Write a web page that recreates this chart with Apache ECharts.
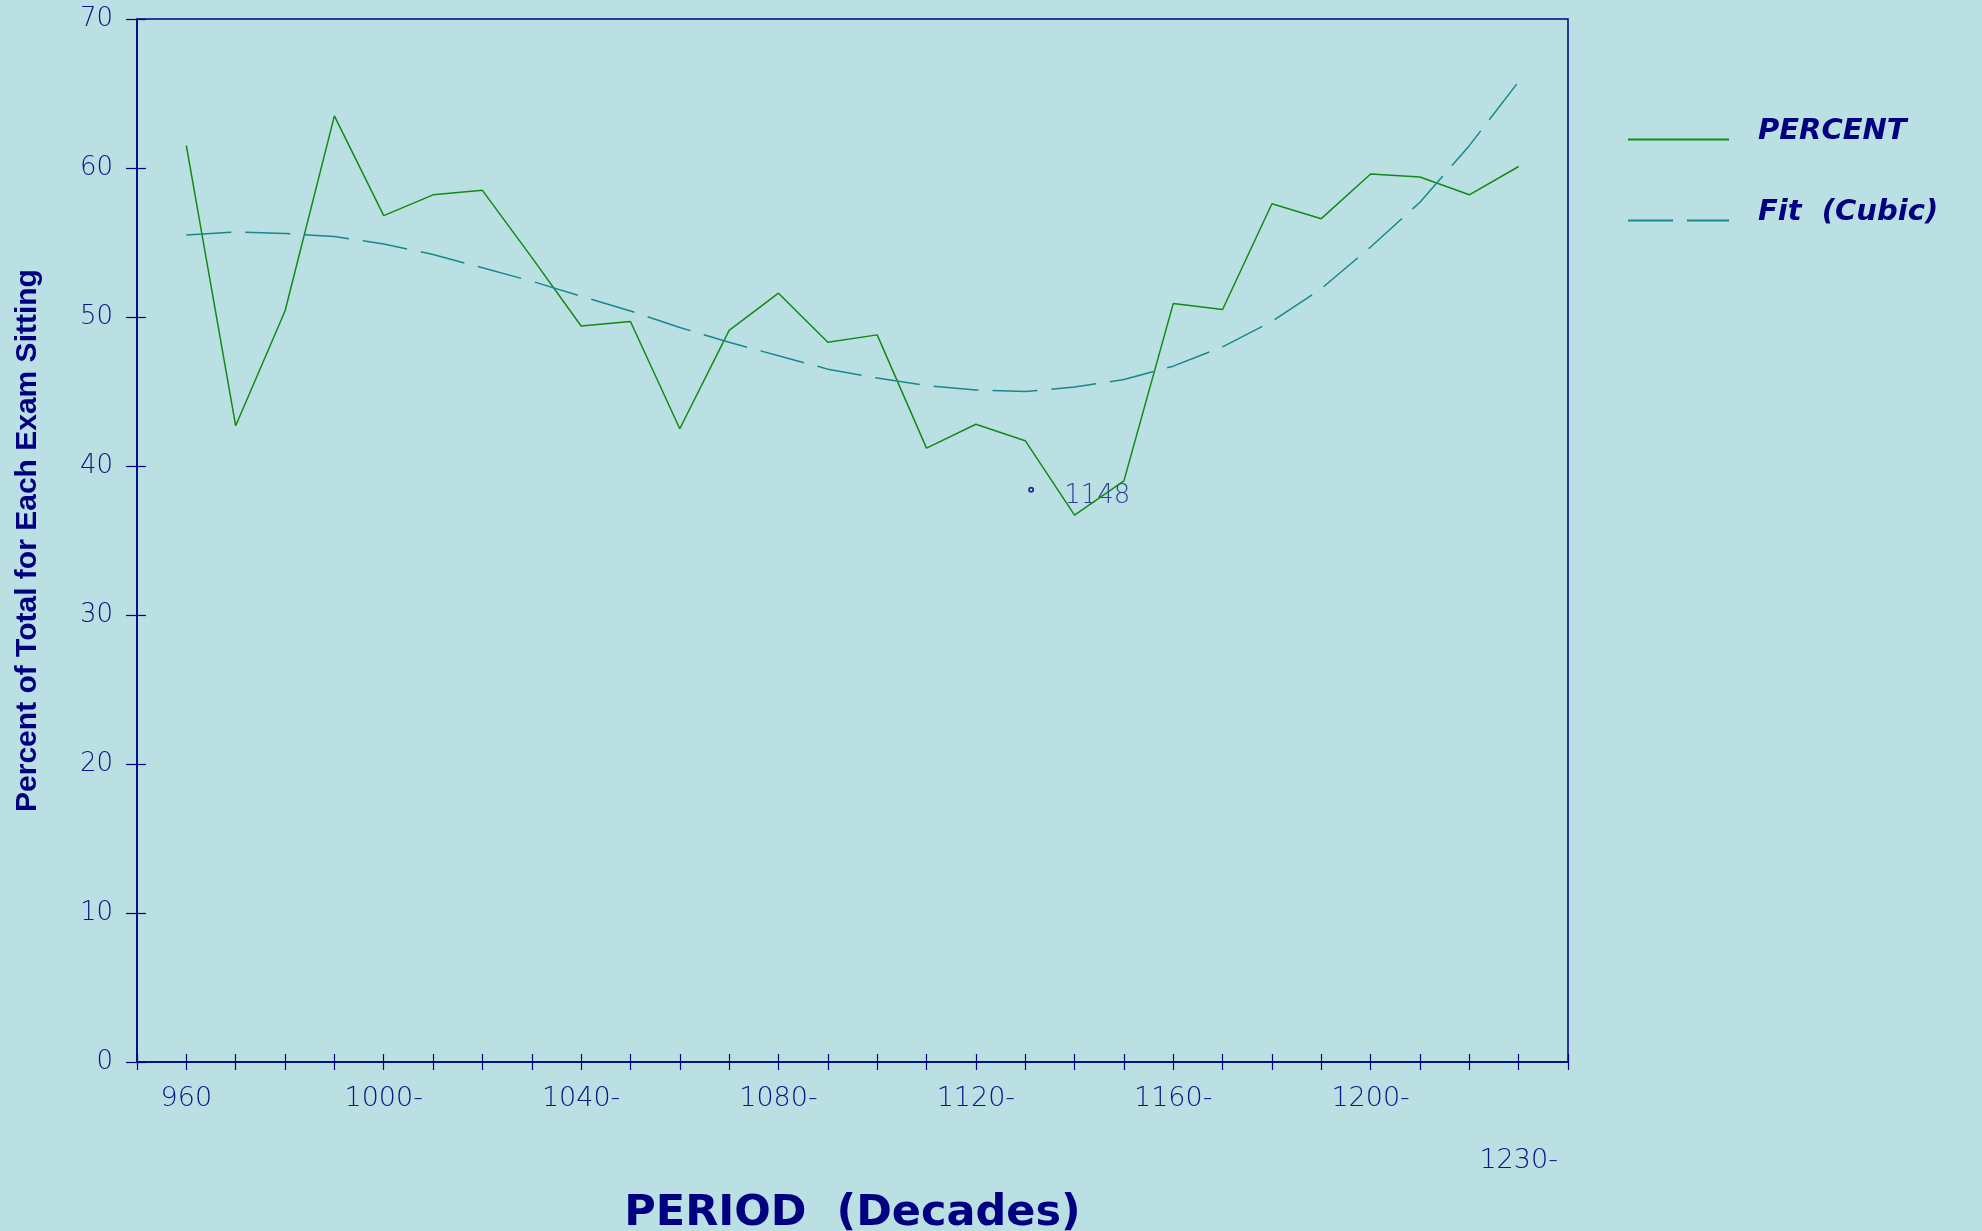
<!DOCTYPE html>
<html>

<head>
  <meta charset="UTF-8">
  <title>Percent of Total for Each Exam Sitting</title>
  <style>
    html, body { margin: 0; padding: 0; background: #bae0e3; }
  </style>
</head>

<body>
  <div id="main" style="width: 1982px; height: 1231px;"></div>
  <script src="https://cdn.jsdelivr.net/npm/echarts@6.0.0/dist/echarts.min.js"></script>
  <script>
    // Decades on the x axis (one point per decade)
    const decades = [960, 970, 980, 990, 1000, 1010, 1020, 1030, 1040, 1050, 1060, 1070, 1080, 1090,
      1100, 1110, 1120, 1130, 1140, 1150, 1160, 1170, 1180, 1190, 1200, 1210, 1220, 1230];

    const percent = [61.5, 42.7, 50.4, 63.5, 56.8, 58.2, 58.5, 54.0, 49.4, 49.7, 42.5, 49.1, 51.6, 48.3,
      48.8, 41.2, 42.8, 41.7, 36.7, 39.0, 50.9, 50.5, 57.6, 56.6, 59.6, 59.4, 58.2, 60.1];

    const fitCubic = [55.5, 55.7, 55.6, 55.4, 54.9, 54.2, 53.3, 52.4, 51.4, 50.4, 49.3, 48.3, 47.4, 46.5,
      45.9, 45.4, 45.1, 45.0, 45.3, 45.8, 46.7, 48.0, 49.7, 51.9, 54.7, 57.7, 61.5, 65.8];

    // tick labels on the x axis; the last one sits on a lower row
    const xLabels = { 960: '960', 1000: '1000-', 1040: '1040-', 1080: '1080-', 1120: '1120-', 1160: '1160-', 1200: '1200-' };
    const xLowLabels = { 1230: '1230-' };

    // the small marked point
    const notePoint = [1131.2, 38.4];
    const noteText = '1148';

    const navy = '#000080';
    const labelColor = '#0c1688';
    const thinFont = { fontFamily: 'DejaVu Sans', fontWeight: 200 };

    const chart = echarts.init(document.getElementById('main'));

    const xBase = { type: 'value', min: 950, max: 1240, interval: 10, gridIndex: 0, position: 'bottom' };
    const yBase = { type: 'value', min: 0, max: 70, interval: 10, gridIndex: 0, position: 'left' };

    chart.setOption({
      backgroundColor: '#bae0e3',
      animation: false,
      grid: {
        left: 137, right: 414, top: 19, bottom: 169,
        outerBoundsMode: 'none',
        containLabel: false,
        show: true, borderColor: navy, borderWidth: 1.5, backgroundColor: 'transparent'
      },
      legend: {
        orient: 'vertical',
        left: 1627,
        top: 117,
        padding: 0,
        itemWidth: 101,
        itemHeight: 14,
        itemGap: 52,
        itemStyle: { opacity: 0 },
        data: ['PERCENT', 'Fit (Cubic)'],
        formatter: name => '{t|' + name.replace(' ', '  ') + '}',
        textStyle: {
          rich: {
            t: {
              fontFamily: 'DejaVu Sans', fontWeight: 'bold', fontStyle: 'italic',
              fontSize: 29, color: navy, padding: [0, 0, 16, 24]
            }
          }
        }
      },
      xAxis: [
        Object.assign({}, xBase, {
          name: 'PERIOD  (Decades)',
          nameLocation: 'middle',
          nameGap: 130,
          nameTextStyle: { fontFamily: 'DejaVu Sans', fontWeight: 'bold', fontSize: 43, color: navy },
          axisLine: { lineStyle: { color: navy, width: 1.5 } },
          axisTick: { length: 8, lineStyle: { color: navy, width: 1.2 } },
          splitLine: { show: false },
          axisLabel: {
            margin: 23,
            showMinLabel: true, showMaxLabel: true,
            formatter: v => {
              if (xLabels[v]) return '{up|' + xLabels[v] + '}';
              if (xLowLabels[v]) return '{low|' + xLowLabels[v] + '}';
              return '';
            },
            rich: {
              up: Object.assign({ fontSize: 27, color: labelColor }, thinFont),
              low: Object.assign({ fontSize: 27, color: labelColor, padding: [62, 0, 0, 0] }, thinFont)
            }
          }
        }),
        Object.assign({}, xBase, {
          axisLine: { show: false },
          axisTick: { inside: true, length: 8, lineStyle: { color: navy, width: 1.2 } },
          axisLabel: { show: false },
          splitLine: { show: false }
        })
      ],
      yAxis: [
        Object.assign({}, yBase, {
          name: 'Percent of Total for Each Exam Sitting',
          nameLocation: 'middle',
          nameRotate: 90,
          nameGap: 94,
          nameTextStyle: { fontFamily: 'Liberation Sans', fontWeight: 'bold', fontSize: 30, color: navy },
          axisLine: { show: true, lineStyle: { color: navy, width: 1.5 } },
          axisTick: { show: true, length: 11, lineStyle: { color: navy, width: 1.2 } },
          splitLine: { show: false },
          axisLabel: Object.assign({ margin: 24, fontSize: 26, color: labelColor }, thinFont)
        }),
        Object.assign({}, yBase, {
          axisLine: { show: false },
          axisTick: { show: true, inside: true, length: 9, lineStyle: { color: navy, width: 1.2 } },
          axisLabel: { show: false },
          splitLine: { show: false }
        })
      ],
      series: [
        {
          name: 'PERCENT',
          type: 'line',
          xAxisIndex: 0, yAxisIndex: 0,
          symbol: 'none',
          data: decades.map((d, i) => [d, percent[i]]),
          lineStyle: { color: '#138a13', width: 1.5 },
          itemStyle: { color: '#138a13' }
        },
        {
          name: 'Fit (Cubic)',
          type: 'line',
          xAxisIndex: 0, yAxisIndex: 0,
          symbol: 'none',
          data: decades.map((d, i) => [d, fitCubic[i]]),
          lineStyle: { color: '#16898c', width: 1.5, type: [45, 14] },
          itemStyle: { color: '#16898c' }
        },
        {
          name: 'note',
          type: 'scatter',
          xAxisIndex: 0, yAxisIndex: 0,
          symbol: 'emptyCircle',
          symbolSize: 4,
          data: [notePoint],
          itemStyle: { color: navy, borderColor: navy, borderWidth: 1 },
          label: Object.assign({
            show: true, position: 'right', distance: 30, offset: [0, 6],
            formatter: noteText, fontSize: 26, color: labelColor
          }, thinFont)
        }
      ]
    });
  </script>
</body>

</html>
